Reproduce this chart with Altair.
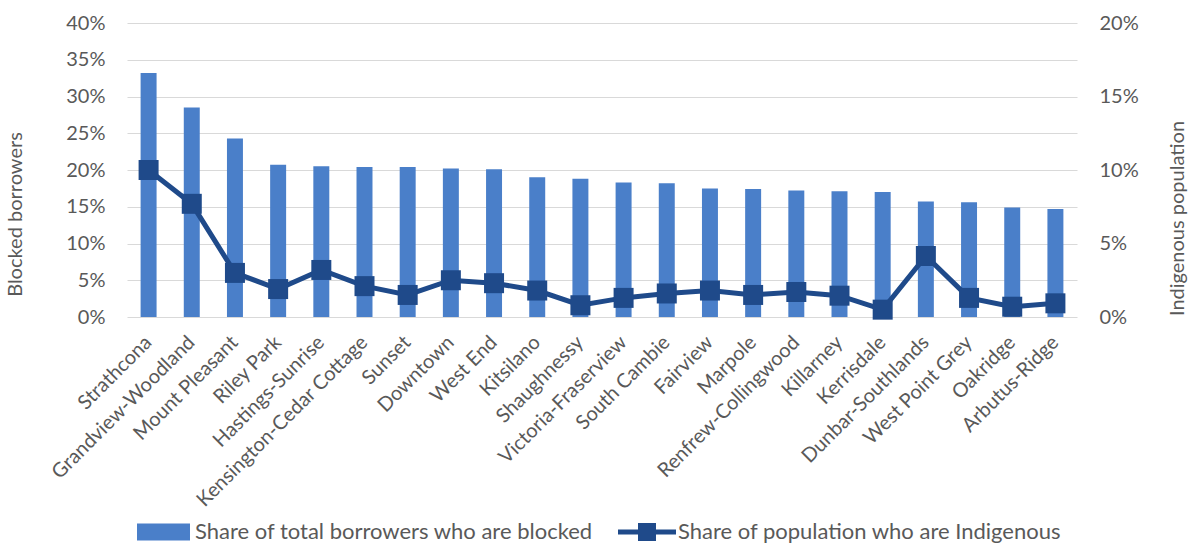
import altair as alt
import pandas as pd

neighbourhoods = [
    "Strathcona", "Grandview-Woodland", "Mount Pleasant", "Riley Park",
    "Hastings-Sunrise", "Kensington-Cedar Cottage", "Sunset", "Downtown",
    "West End", "Kitsilano", "Shaughnessy", "Victoria-Fraserview",
    "South Cambie", "Fairview", "Marpole", "Renfrew-Collingwood",
    "Killarney", "Kerrisdale", "Dunbar-Southlands", "West Point Grey",
    "Oakridge", "Arbutus-Ridge",
]
blocked_share = [
    0.332, 0.285, 0.243, 0.207, 0.205, 0.204, 0.204, 0.202, 0.201, 0.190,
    0.188, 0.183, 0.182, 0.175, 0.174, 0.172, 0.171, 0.170, 0.157, 0.156,
    0.149, 0.147,
]
indigenous_share = [
    0.100, 0.077, 0.030, 0.019, 0.032, 0.021, 0.015, 0.025, 0.023, 0.018,
    0.008, 0.013, 0.016, 0.018, 0.015, 0.017, 0.0145, 0.005, 0.0415, 0.013,
    0.007, 0.0093,
]
left_ticks = [0, 0.05, 0.10, 0.15, 0.20, 0.25, 0.30, 0.35, 0.40]
right_ticks = [0, 0.05, 0.10, 0.15, 0.20]
bar_series = "Share of total borrowers who are blocked"
line_series = "Share of population who are Indigenous"

df = pd.DataFrame({
    "n": neighbourhoods,
    "blocked": blocked_share,
    "indig": indigenous_share,
    "s1": bar_series,
    "s2": line_series,
})

FONT = "Lato"
LABEL = "#595959"
BAR = "#4a7fc9"
LINE = "#1f4a8a"

x = alt.X(
    "n:N", sort=neighbourhoods, title=None,
    scale=alt.Scale(paddingInner=0.63, paddingOuter=0.315),
    axis=alt.Axis(labelAngle=-45, labelAlign="right", labelBaseline="middle",
                  labelFontSize=20, labelColor=LABEL, labelFont=FONT,
                  ticks=False, domain=False, labelPadding=22, labelLimit=400),
)

bars = alt.Chart(df).mark_bar().encode(
    x=x,
    y=alt.Y("blocked:Q", scale=alt.Scale(domain=[0, 0.4]),
            axis=alt.Axis(values=left_ticks, format=".0%", title="Blocked borrowers",
                          grid=True, gridColor="#d9d9d9", gridWidth=1,
                          domain=False, ticks=False, labelPadding=22,
                          labelFontSize=20, labelFont=FONT, labelColor=LABEL,
                          titleFontSize=20, titleFont=FONT, titleColor=LABEL,
                          titleFontWeight="normal", titleX=-112, titleY=191,
                          titleAngle=270, titleAlign="center", titleBaseline="middle")),
    color=alt.Color("s1:N", scale=alt.Scale(range=[BAR]),
                    legend=alt.Legend(title=None, orient="none", legendX=10, legendY=482.5,
                                      symbolType="M-1,-0.32H1V0.32H-1Z", symbolSize=2809,
                                      symbolStrokeWidth=0, symbolOpacity=1,
                                      labelFontSize=22, labelFont=FONT, labelColor=LABEL,
                                      labelOffset=5, padding=0, labelLimit=600)),
)

right_axis = alt.Axis(values=right_ticks, format=".0%", title="Indigenous population",
                      grid=False, domain=False, ticks=False, labelPadding=22,
                      labelFontSize=20, labelFont=FONT, labelColor=LABEL,
                      titleFontSize=20, titleFont=FONT, titleColor=LABEL,
                      titleFontWeight="normal", titleX=100, titleY=195,
                      titleAngle=270, titleAlign="center", titleBaseline="middle")

line = alt.Chart(df).mark_line(color=LINE, strokeWidth=5).encode(
    x=x,
    y=alt.Y("indig:Q", scale=alt.Scale(domain=[0, 0.2]), axis=right_axis),
)

squares = alt.Chart(df).mark_square(size=400, opacity=1, filled=True).encode(
    x=x,
    y=alt.Y("indig:Q", scale=alt.Scale(domain=[0, 0.2]), axis=right_axis),
    color=alt.Color("s2:N", scale=alt.Scale(range=[LINE]),
                    legend=alt.Legend(title=None, orient="none", legendX=491, legendY=480,
                                      symbolType="M-1,-0.09H-0.31V-0.31H0.31V-0.09H1V0.09H0.31V0.31H-0.31V0.09H-1Z",
                                      symbolSize=3364, symbolStrokeWidth=0, symbolOpacity=1,
                                      labelFontSize=22, labelFont=FONT, labelColor=LABEL,
                                      labelOffset=2, padding=0, labelLimit=600)),
)

chart = alt.layer(bars, alt.layer(line, squares)).resolve_scale(
    y="independent", color="independent"
).properties(
    width=950, height=294,
    padding={"left": 127, "top": 23, "right": 112, "bottom": 227},
    autosize=alt.AutoSizeParams(type="none"),
    background="white",
).configure_view(stroke=None)

chart.save("out.html", embed_options={"renderer": "svg", "actions": False})
